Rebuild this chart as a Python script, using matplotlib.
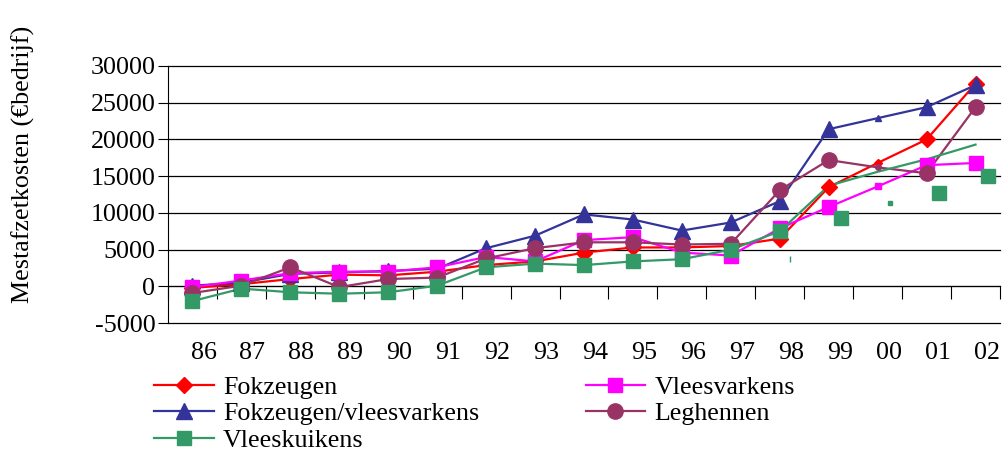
import matplotlib
matplotlib.use('Agg')
import matplotlib.pyplot as plt
from matplotlib.lines import Line2D
import matplotlib.transforms as mtransforms
import numpy as np

years = ['86', '87', '88', '89', '90', '91', '92', '93', '94', '95', '96',
         '97', '98', '99', '00', '01', '02']

fokzeugen = [-200, 300, 1000, 1600, 1500, 2000, 2900, 3400, 4600, 5300, 5300,
             5500, 6500, 13500, 16800, 20000, 27600]
fokzeugen_vleesvarkens = [100, 500, 1700, 1900, 2100, 2400, 5200, 6900, 9800, 9100,
                          7600, 8700, 11600, 21400, 22900, 24400, 27400]
vleesvarkens = [-100, 800, 1800, 2000, 2000, 2600, 4000, 3400, 6300, 6700, 4600,
                4200, 7900, 10800, 13600, 16500, 16800]
leghennen = [-900, 100, 2600, -100, 1000, 1200, 3800, 5200, 6000, 6000, 5700,
             5800, 13100, 17200, 16200, 15400, 24400]
vleeskuikens = [-2000, -300, -800, -1000, -800, 100, 2600, 3100, 2900, 3400, 3700,
                5000, 7500, 13700, 15600, 17300, 19300]
# stray (displaced) Vleeskuikens markers seen in the original, years 98..02
vleeskuikens_stray_years = ['98', '99', '00', '01', '02']
vleeskuikens_stray = [3700, 9300, 11300, 12700, 15000]
vleeskuikens_stray_big = [False, True, False, True, True]
y_ticks = [-5000, 0, 5000, 10000, 15000, 20000, 25000, 30000]

plt.rcParams['font.family'] = ['Liberation Serif', 'DejaVu Serif']
plt.rcParams['axes.unicode_minus'] = False
FS = 18.7

fig = plt.figure(figsize=(10.04, 4.55), dpi=100)
ax = fig.add_axes([168 / 1004, 1 - 324 / 455, (1000 - 168) / 1004, (324 - 66) / 455])

x = np.arange(len(years))
ax.set_xlim(-0.5, len(years) - 0.5)
ax.set_ylim(-5120, 30000)
ax.set_yticks(y_ticks)
for yt in y_ticks:
    ax.axhline(yt, color='black', lw=0.9, zorder=1, clip_on=False)
for s in ['top', 'right']:
    ax.spines[s].set_visible(False)
ax.spines['bottom'].set_position(('data', 0))
ax.spines['bottom'].set_linewidth(0.8)
ax.spines['left'].set_linewidth(0.8)
ax.spines['left'].set_bounds(y_ticks[0], y_ticks[-1])
ax.set_xticks(np.arange(len(years) + 1) - 0.5)
ax.tick_params(axis='x', length=9, width=0.8, labelbottom=False, direction='out')
ax.tick_params(axis='y', length=7, width=0.8, labelsize=FS, pad=2)

series = [
    ('Fokzeugen', fokzeugen, '#FF0000', 'D', 8),
    ('Fokzeugen/vleesvarkens', fokzeugen_vleesvarkens, '#333399', '^', 11),
    ('Vleesvarkens', vleesvarkens, '#FF00FF', 's', 10),
    ('Leghennen', leghennen, '#993366', 'o', 11),
]
handles = {}
small_idx = years.index('00')
for name, vals, col, mk, ms in series:
    vals = np.array(vals, dtype=float)
    ax.plot(x, vals, color=col, lw=1.6, zorder=3)
    big = [i for i in range(len(x)) if i != small_idx]
    ax.plot(x[big], vals[big], ls='none', marker=mk, ms=ms, color=col, mec=col, zorder=4)
    ax.plot(x[small_idx], vals[small_idx], ls='none', marker=mk, ms=4, color=col, mec=col, zorder=4)
    handles[name] = Line2D([], [], color=col, lw=1.6, marker=mk, ms=ms, mec=col)

# Vleeskuikens
green = '#339966'
vk = np.array(vleeskuikens, dtype=float)
ax.plot(x, vk, color=green, lw=1.6, zorder=3)
n_mk = years.index('98') + 1
ax.plot(x[:n_mk], vk[:n_mk], ls='none', marker='s', ms=10, color=green, zorder=4)
off_mk = mtransforms.offset_copy(ax.transData, fig=fig, x=12, y=0, units='dots')
for yr, v, b in zip(vleeskuikens_stray_years, vleeskuikens_stray, vleeskuikens_stray_big):
    if yr == '98':
        continue
    ax.plot(years.index(yr), v, ls='none', marker='s', ms=10 if b else 3, color=green,
            transform=off_mk, zorder=4)
ax.plot(years.index('98'), vleeskuikens_stray[0], ls='none', marker='|', ms=4, color=green,
        transform=mtransforms.offset_copy(ax.transData, fig=fig, x=10, y=0, units='dots'), zorder=4)
handles['Vleeskuikens'] = Line2D([], [], color=green, lw=1.6, marker='s', ms=10)

# category labels below the plot area
trans = mtransforms.blended_transform_factory(ax.transData, ax.transAxes)
trans = mtransforms.offset_copy(trans, fig=fig, x=11, y=0, units='dots')
for xi, lab in zip(x, years):
    ax.text(xi, -0.113, lab, transform=trans, ha='center', va='center', fontsize=FS)

fig.text(23 / 1004, 1 - 164 / 455, 'Mestafzetkosten (€bedrijf)', rotation=90,
         ha='center', va='center', fontsize=FS)

order = ['Fokzeugen', 'Fokzeugen/vleesvarkens', 'Vleeskuikens', 'Vleesvarkens', 'Leghennen']
fig.legend([handles[k] for k in order], order, ncol=2, loc='upper left',
           bbox_to_anchor=(154 / 1004, 1 - 376 / 455), frameon=False, fontsize=FS,
           handlelength=2.3, handletextpad=0.35, columnspacing=4.1, labelspacing=0.12,
           borderpad=0, borderaxespad=0)

fig.savefig('out.png', dpi=100)
